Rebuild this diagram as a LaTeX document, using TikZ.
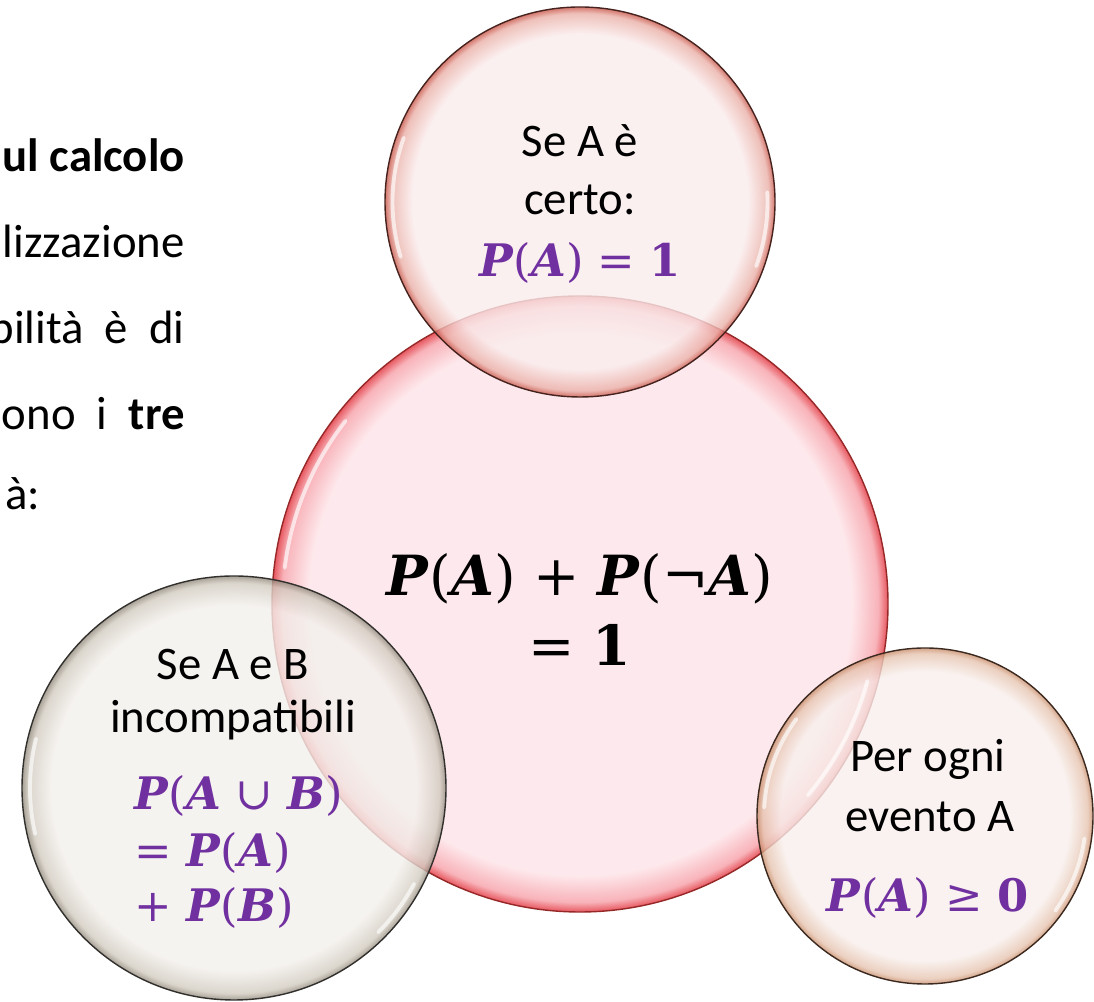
\documentclass[tikz,border=0pt]{standalone}
\usepackage{fontspec}
\setmainfont{Carlito}
\newfontfamily\fmlfont{DejaVu Serif}
\newcommand{\bv}[1]{\textbf{\textit{#1}}}
\definecolor{mainfill}{RGB}{253,228,232}
\definecolor{mainmid}{RGB}{246,160,168}
\definecolor{mainrim}{RGB}{225,45,55}
\definecolor{mainline}{RGB}{150,40,40}
\definecolor{topfill}{RGB}{250,236,236}
\definecolor{topmid}{RGB}{234,176,168}
\definecolor{toprim}{RGB}{200,85,72}
\definecolor{topline}{RGB}{70,35,30}
\definecolor{leftfill}{RGB}{243,240,236}
\definecolor{leftmid}{RGB}{210,203,192}
\definecolor{leftrim}{RGB}{145,137,124}
\definecolor{leftline}{RGB}{50,48,45}
\definecolor{rightfill}{RGB}{248,239,236}
\definecolor{rightmid}{RGB}{230,196,176}
\definecolor{rightrim}{RGB}{200,140,105}
\definecolor{rightline}{RGB}{60,42,32}
\definecolor{formula}{RGB}{112,48,160}
\pgfdeclareradialshading{mainbub}{\pgfpoint{0bp}{0bp}}{color(0bp)=(mainfill); color(22bp)=(mainfill); color(24.2bp)=(mainmid); color(25bp)=(mainrim); color(50bp)=(mainrim)}
\pgfdeclareradialshading{topbub}{\pgfpoint{0bp}{0bp}}{color(0bp)=(topfill); color(21.5bp)=(topfill); color(24.2bp)=(topmid); color(25bp)=(toprim); color(50bp)=(toprim)}
\pgfdeclareradialshading{leftbub}{\pgfpoint{0bp}{0bp}}{color(0bp)=(leftfill); color(21.5bp)=(leftfill); color(24.2bp)=(leftmid); color(25bp)=(leftrim); color(50bp)=(leftrim)}
\pgfdeclareradialshading{rightbub}{\pgfpoint{0bp}{0bp}}{color(0bp)=(rightfill); color(21.5bp)=(rightfill); color(24.2bp)=(rightmid); color(25bp)=(rightrim); color(50bp)=(rightrim)}
\begin{document}
\begin{tikzpicture}[
          bub/.style={circle, draw, inner sep=0pt, line width=0.8pt, fill opacity=0.8},
          shine/.style={white, line width=2.2pt, opacity=0.65, line cap=round},
          txt/.style={anchor=base, font=\fontsize{26.6}{30}\selectfont},
          fml/.style={anchor=base, text=formula, font=\fontsize{25.5}{30}\selectfont\fmlfont},
          big/.style={anchor=base, font=\fontsize{31.5}{36}\selectfont\fmlfont},
          side/.style={inner sep=0pt, font=\fontsize{26.6}{30}\selectfont}]
        \useasboundingbox (0,0) rectangle (21.88,20.04);
        % text on the left, cut by the page
        \node[side, anchor=base east] (l1) at (3.7,16.6) {\textbf{ul calcolo}};
        \node[side, anchor=base east] (l2) at (3.7,14.88) {lizzazione};
        \node[side, anchor=base east] (l3) at (3.7,13.16) {bilità\ \ è\ \ di};
        \node[side, anchor=base east] (l4) at (3.7,11.44) {ono\ \ i\ \ \textbf{tre}};
        \node[side, anchor=base west] (l5) at (0.1,9.84) {à:};
        % bubbles
        \node[bub, shading=mainbub, draw=mainline, minimum size=12.32cm] (main) at (11.6,7.96) {};
        \node[bub, shading=topbub, draw=topline, minimum size=7.8cm] (top) at (11.6,16.0) {};
        \node[bub, shading=leftbub, draw=leftline, minimum size=8.48cm] (inc) at (4.68,4.28) {};
        \node[bub, shading=rightbub, draw=rightline, minimum size=6.72cm] (pos) at (18.5,3.72) {};
        % light on the bubbles
        \draw[shine] (main.center) ++(173:5.95) arc (173:142:5.95);
        \draw[shine] (main.center) ++(-15:5.95) arc (-15:-40:5.95);
        \draw[shine] (top.center) ++(160:3.75) arc (160:197:3.75);
        \draw[shine] (top.center) ++(3:3.75) arc (3:-20:3.75);
        \draw[shine] (inc.center) ++(166:4.08) arc (166:193:4.08);
        \draw[shine] (inc.center) ++(-28:4.08) arc (-28:-45:4.08);
        \draw[shine] (pos.center) ++(143:3.22) arc (143:177:3.22);
        \draw[shine] (pos.center) ++(-8:3.22) arc (-8:-36:3.22);
        % texts of the bubbles
        \node[txt] (t1) at (11.6,16.9) {Se A è};
        \node[txt] (t2) at (11.6,15.74) {certo:};
        \node[fml] (t3) at (11.6,14.5) {\bv{P}(\bv{A}) = \textbf{1}};
        \node[big] (m1) at (11.6,8.12) {\bv{P}(\bv{A}) + \bv{P}(¬\bv{A})};
        \node[big] (m2) at (11.6,6.72) {= \textbf{1}};
        \node[txt] (i1) at (4.66,6.44) {Se A e B};
        \node[txt] (i2) at (4.66,5.38) {incompatibili};
        \node[fml, anchor=base west] (i3) at (2.56,3.84) {\bv{P}(\bv{A} ∪ \bv{B})};
        \node[fml, anchor=base west] (i4) at (2.56,2.70) {= \bv{P}(\bv{A})};
        \node[fml, anchor=base west] (i5) at (2.56,1.60) {+ \bv{P}(\bv{B})};
        \node[txt] (p1) at (18.56,4.6) {Per ogni};
        \node[txt] (p2) at (18.6,3.4) {evento A};
        \node[fml] (p3) at (18.55,1.8) {\bv{P}(\bv{A}) ≥ \textbf{0}};
      \end{tikzpicture}
\end{document}
